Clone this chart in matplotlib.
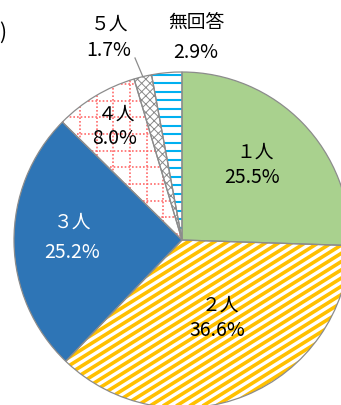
import numpy as np
import matplotlib.pyplot as plt

plt.rcParams['font.family'] = ['Noto Sans CJK JP', 'DejaVu Sans']
plt.rcParams['hatch.linewidth'] = 0.7

# data
labels = ['１人', '２人', '３人', '４人', '５人', '無回答']
values = [25.5, 36.6, 25.2, 8.0, 1.7, 2.9]
colors = ['#A9D18E', 'white', '#2E75B6', 'white', 'white', 'white']
text_colors = ['black', 'black', 'white', 'black', 'black', 'black']

# layout (pixel coords, y from top)
W, H = 341, 406
cx, cy, r = 182, 241, 168
name_pos = [(255, 152), (220, 305), (73, 222), (117, 114), (110, 24), (196, 22)]
pct_pos = [(252, 178), (217, 331), (72, 252), (115, 139), (109, 51), (196, 52)]

fig = plt.figure(figsize=(W / 100, H / 100), dpi=100)
ax = fig.add_axes([0, 0, 1, 1])

wedges, _ = ax.pie(values, colors=colors, startangle=90, counterclock=False,
                   center=(cx, H - cy), radius=r,
                   wedgeprops=dict(linewidth=0, edgecolor='none'))
ax.set_aspect('equal')
ax.set_xlim(0, W)
ax.set_ylim(0, H)
ax.axis('off')

# 2人: yellow diagonal stripes
ang = np.deg2rad(32)
step = 7.0 / np.cos(ang)
xs = np.array([-50, W + 50])
for c in np.arange(-400, 700, step):
    ln, = ax.plot(xs, np.tan(ang) * xs + c, color='#FFC000', lw=2.6,
                  solid_capstyle='butt', zorder=2)
    ln.set_clip_path(wedges[1])

# 4人: red dotted grid
for gx in np.arange(80 - 16.67 * 6, W, 16.67):
    ln, = ax.plot([gx, gx], [0, H], color='#FF6B6B', lw=1.2,
                  linestyle=(0, (1, 1.2)), zorder=2)
    ln.set_clip_path(wedges[3])
for gy in np.arange(101.7 - 16.67 * 6, H, 16.67):
    ln, = ax.plot([0, W], [H - gy, H - gy], color='#FF6B6B', lw=1.2,
                  linestyle=(0, (1, 1.2)), zorder=2)
    ln.set_clip_path(wedges[3])

# 5人: gray crosshatch
wedges[4].set_hatch('xxxx')
wedges[4].set_edgecolor('#8a8a8a')

# 無回答: blue horizontal stripes
for gy in np.arange(75.7 - 8.5 * 2, 260, 8.5):
    ln, = ax.plot([0, W], [H - gy, H - gy], color='#00B0F0', lw=1.5, zorder=2)
    ln.set_clip_path(wedges[5])

# outlines
ax.pie(values, colors=['none'] * len(values), startangle=90, counterclock=False,
       center=(cx, H - cy), radius=r,
       wedgeprops=dict(linewidth=0.9, edgecolor='#8c8c8c', zorder=3))
ax.set_xlim(0, W)
ax.set_ylim(0, H)
ax.axis('off')

# leader line for 5人
ax.plot([135, 143], [H - 59, H - 78], color='#8c8c8c', lw=0.9, zorder=4)

for i in range(len(labels)):
    ax.text(name_pos[i][0], H - name_pos[i][1], labels[i], ha='center', va='center',
            fontsize=13.5, color=text_colors[i], zorder=5)
    ax.text(pct_pos[i][0], H - pct_pos[i][1], f'{values[i]:.1f}%', ha='center',
            va='center', fontsize=14, color=text_colors[i], zorder=5)

ax.text(6, H - 33, ')', ha='right', va='center', fontsize=15, color='black')

fig.savefig('out.png', dpi=100)
